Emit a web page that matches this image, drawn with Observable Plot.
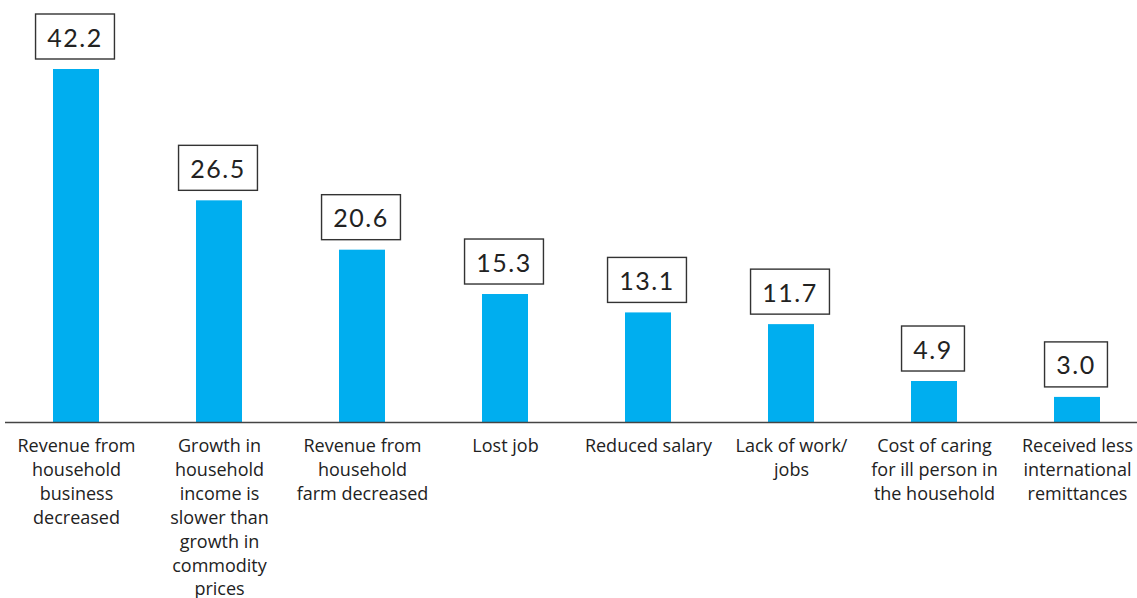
<!DOCTYPE html>
<html><head><meta charset="utf-8">
<script src="https://cdn.jsdelivr.net/npm/d3@7"></script>
<script src="https://cdn.jsdelivr.net/npm/@observablehq/plot@0.6"></script>
<style>body{margin:0;background:#fff}</style>
</head><body><div id="chart"></div>
<script>
const categories = [
  "Revenue from\nhousehold\nbusiness\ndecreased",
  "Growth in\nhousehold\nincome is\nslower than\ngrowth in\ncommodity\nprices",
  "Revenue from\nhousehold\nfarm decreased",
  "Lost job",
  "Reduced salary",
  "Lack of work/\njobs",
  "Cost of caring\nfor ill person in\nthe household",
  "Received less\ninternational\nremittances"
];
const values = [42.2, 26.5, 20.6, 15.3, 13.1, 11.7, 4.9, 3.0];
const valueLabels = ["42.2", "26.5", "20.6", "15.3", "13.1", "11.7", "4.9", "3.0"];

const data = categories.map((c, i) => ({category: c, value: values[i], label: valueLabels[i]}));

const W = 1137, H = 598;
const NUM_FONT = "Lato";
const NUM_SIZE = 25;
const NUM_SPACING = 1.5;

function boxedLabels(index, scales, vals, dims, context) {
  const g = d3.create("svg:g");
  const cnv = document.createElement("canvas").getContext("2d");
  cnv.font = `${NUM_SIZE}px ${NUM_FONT}`;
  const bw = scales.x && typeof scales.x.bandwidth === "function" ? scales.x.bandwidth() / 2 : 0;
  for (const i of index) {
    const t = data[i].label;
    const tw = cnv.measureText(t).width + NUM_SPACING * (t.length - 1);
    const cx = vals.x[i] + bw;
    const yb = vals.y[i] - 10; // box bottom, 10px above bar top
    const bwid = tw + 25, bh = 45;
    g.append("rect")
      .attr("x", cx - bwid / 2 - 1).attr("y", yb - bh)
      .attr("width", bwid).attr("height", bh)
      .attr("fill", "#fff").attr("stroke", "#333").attr("stroke-width", 1.4);
    g.append("text")
      .attr("x", cx - 1).attr("y", yb - bh / 2)
      .attr("text-anchor", "middle").attr("dominant-baseline", "central")
      .attr("font-family", NUM_FONT).attr("font-size", NUM_SIZE)
      .attr("letter-spacing", NUM_SPACING)
      .attr("fill", "#222")
      .text(t);
  }
  return g.node();
}

const chart = Plot.plot({
  width: W,
  height: H,
  marginTop: 69,
  marginBottom: H - 422,
  marginLeft: 5,
  marginRight: 0,
  style: {fontFamily: "'Open Sans', sans-serif", color: "#222", background: "#fff"},
  x: {domain: categories, range: [4, 1148], paddingInner: 0.68, paddingOuter: 0.34, label: null},
  y: {domain: [0, 42.2], axis: null},
  marks: [
    Plot.barY(data, {x: "category", y: "value", fill: "#00AEEF"}),
    Plot.ruleY([0], {stroke: "#444", strokeWidth: 1.6}),
    Plot.axisX({tickSize: 0, tickPadding: 12, fontSize: 18, lineHeight: 1.333, fill: "#222", label: null}),
    Plot.text(data, {x: "category", y: "value", text: "label", render: boxedLabels})
  ]
});
document.getElementById("chart").appendChild(chart);
</script>
</body></html>
